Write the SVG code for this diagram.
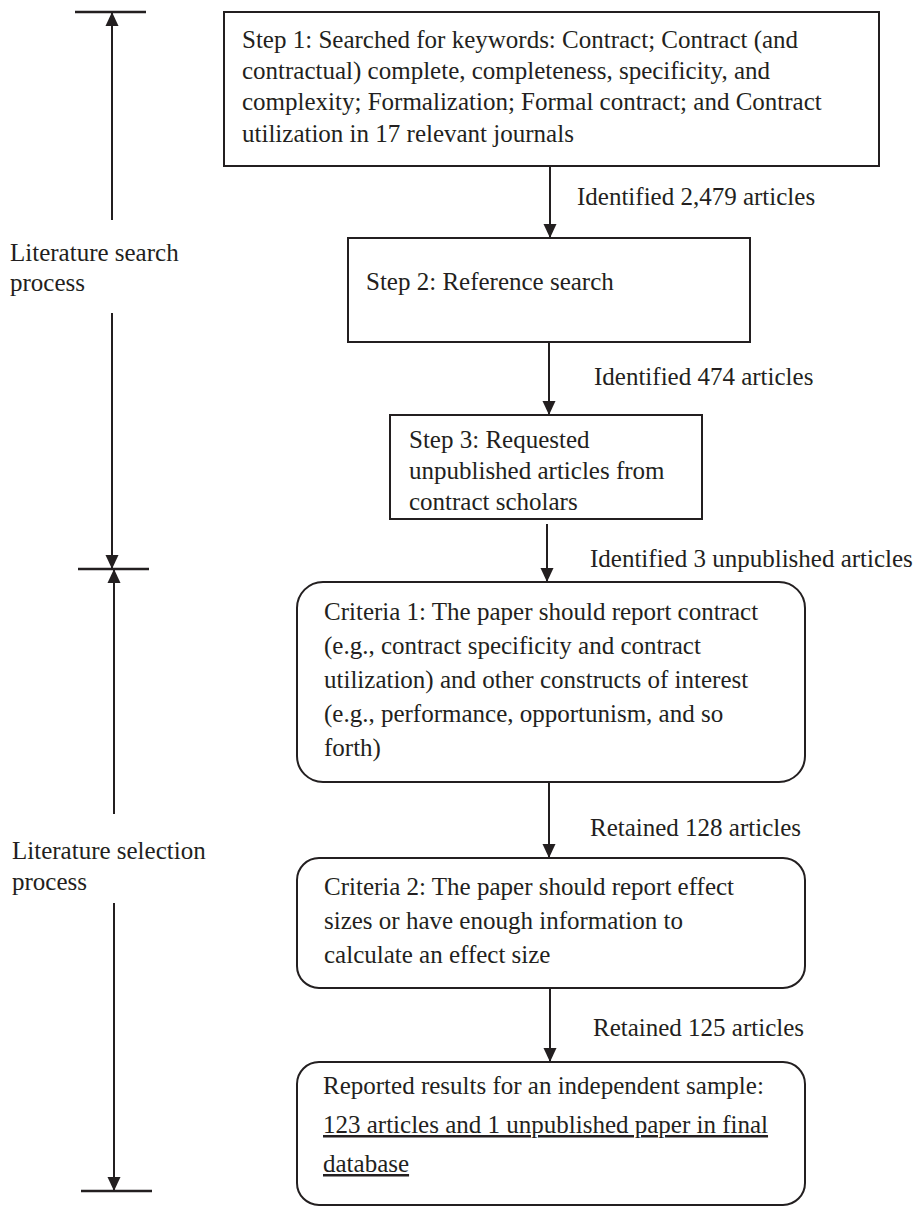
<svg xmlns="http://www.w3.org/2000/svg" width="921" height="1208" viewBox="0 0 921 1208">
<style>
text{font-family:"Liberation Serif","Times New Roman",serif;font-size:25px;fill:#231f20}
.box{fill:#fff;stroke:#231f20;stroke-width:2}
.ln{stroke:#231f20;stroke-width:2;fill:none}
.bar{stroke:#231f20;stroke-width:2.5}
</style>
<defs>
<marker id="arr" viewBox="0 0 14 14" refX="14" refY="7" markerWidth="14" markerHeight="14" markerUnits="userSpaceOnUse" orient="auto-start-reverse">
<path d="M0,0.5 L14,7 L0,13.5 z" fill="#231f20"/>
</marker>
</defs>
<rect width="921" height="1208" fill="#fff"/>
<g id="connectors">
<line class="ln" x1="550" y1="166" x2="550" y2="238" marker-end="url(#arr)"/>
<line class="ln" x1="549" y1="342" x2="549" y2="415" marker-end="url(#arr)"/>
<line class="ln" x1="547" y1="524" x2="547" y2="582" marker-end="url(#arr)"/>
<line class="ln" x1="549" y1="782" x2="549" y2="858" marker-end="url(#arr)"/>
<line class="ln" x1="550" y1="988" x2="550" y2="1062" marker-end="url(#arr)"/>
<text x="577" y="205">Identified 2,479 articles</text>
<text x="594" y="385">Identified 474 articles</text>
<text x="590" y="567">Identified 3 unpublished articles</text>
<text x="590" y="836">Retained 128 articles</text>
<text x="593" y="1036">Retained 125 articles</text>
</g>
<g id="phase-search">
<line class="bar" x1="75" y1="12" x2="146" y2="12"/>
<line class="ln" x1="112" y1="220" x2="112" y2="12" marker-end="url(#arr)"/>
<text x="10" y="261">Literature search</text>
<text x="10" y="291">process</text>
<line class="ln" x1="112" y1="313" x2="112" y2="569" marker-end="url(#arr)"/>
<line class="bar" x1="78" y1="569" x2="149" y2="569"/>
</g>
<g id="phase-selection">
<line class="ln" x1="114" y1="814" x2="114" y2="569" marker-end="url(#arr)"/>
<text x="12" y="859">Literature selection</text>
<text x="12" y="890">process</text>
<line class="ln" x1="114" y1="903" x2="114" y2="1191" marker-end="url(#arr)"/>
<line class="bar" x1="81" y1="1191" x2="152" y2="1191"/>
</g>
<g id="step1">
<rect class="box" x="224" y="12" width="655" height="154"/>
<text x="242" y="48">Step 1: Searched for keywords: Contract; Contract (and</text>
<text x="242" y="79">contractual) complete, completeness, specificity, and</text>
<text x="242" y="110">complexity; Formalization; Formal contract; and Contract</text>
<text x="242" y="142">utilization in 17 relevant journals</text>
</g>
<g id="step2">
<rect class="box" x="348" y="238" width="402" height="104"/>
<text x="366" y="290">Step 2: Reference search</text>
</g>
<g id="step3">
<rect class="box" x="390" y="415" width="312" height="104"/>
<text x="409" y="448">Step 3: Requested</text>
<text x="409" y="479">unpublished articles from</text>
<text x="409" y="510">contract scholars</text>
</g>
<g id="criteria1">
<rect class="box" x="297" y="582" width="508" height="200" rx="26" ry="26"/>
<text x="324" y="620">Criteria 1: The paper should report contract</text>
<text x="324" y="654">(e.g., contract specificity and contract</text>
<text x="324" y="688">utilization) and other constructs of interest</text>
<text x="324" y="722">(e.g., performance, opportunism, and so</text>
<text x="324" y="756">forth)</text>
</g>
<g id="criteria2">
<rect class="box" x="297" y="858" width="508" height="130" rx="22" ry="22"/>
<text x="324" y="895">Criteria 2: The paper should report effect</text>
<text x="324" y="929">sizes or have enough information to</text>
<text x="324" y="963">calculate an effect size</text>
</g>
<g id="final">
<rect class="box" x="297" y="1062" width="508" height="143" rx="22" ry="22"/>
<text x="323" y="1094">Reported results for an independent sample:</text>
<text x="323" y="1133" text-decoration="underline">123 articles and 1 unpublished paper in final</text>
<text x="323" y="1172" text-decoration="underline">database</text>
</g>
</svg>
